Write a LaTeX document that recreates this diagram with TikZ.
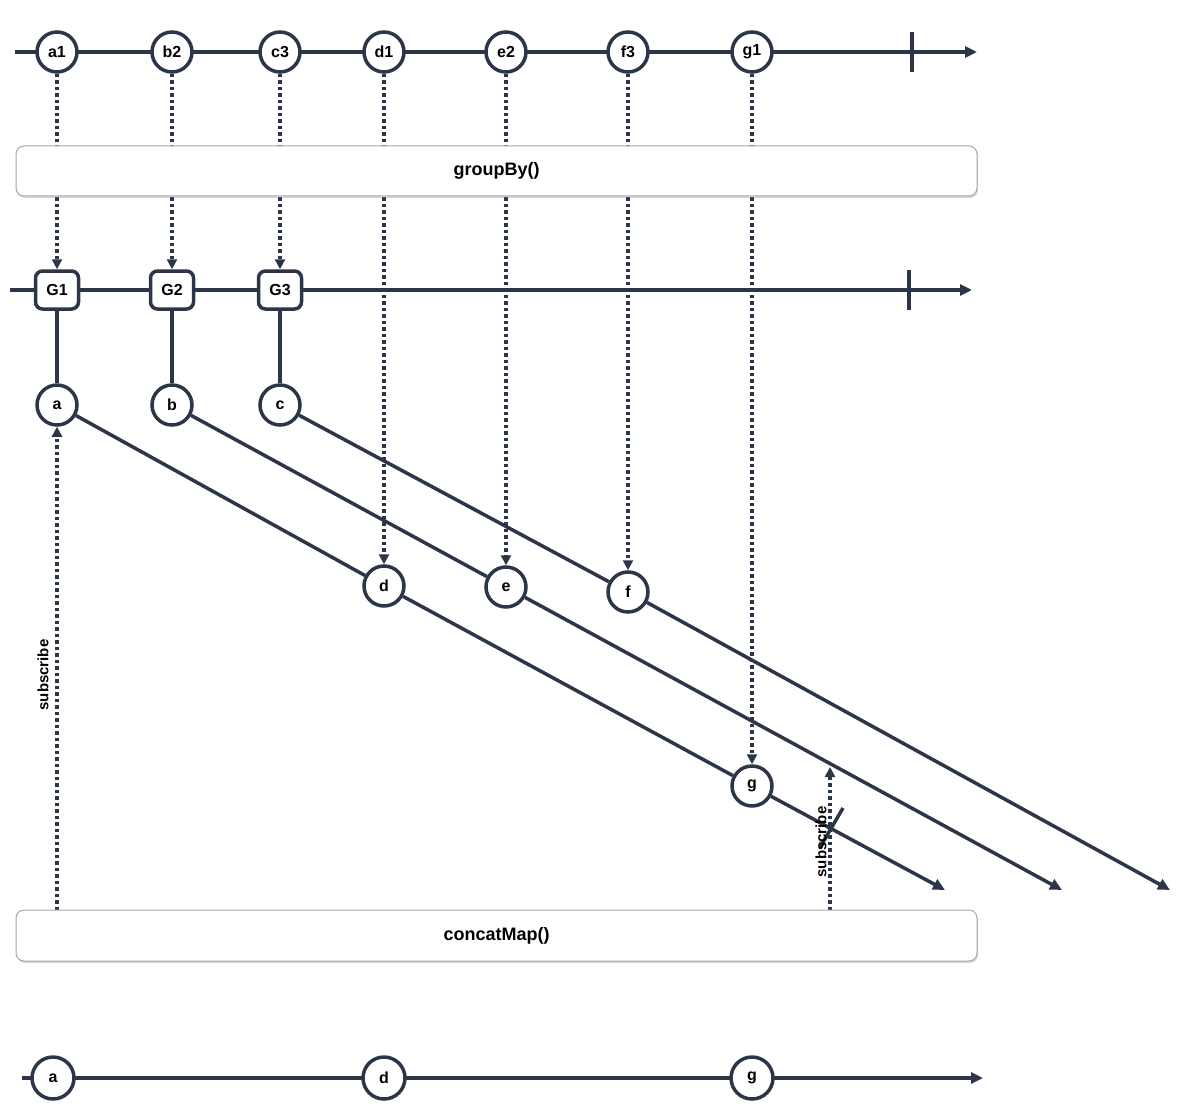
\documentclass[tikz,border=0pt]{standalone}
\usepackage{fontspec}
\setmainfont{Liberation Sans}
\usetikzlibrary{arrows.meta,shadows}
\definecolor{ink}{RGB}{44,54,72}
\pgfdeclarelayer{bg}
\pgfsetlayers{bg,main}
\begin{document}
\begin{tikzpicture}[x=1pt,y=-1pt,
  every node/.style={font=\fontsize{16}{18}\selectfont\bfseries},
  axis/.style={draw=ink,line width=3.8pt},
  link/.style={draw=ink,line width=3.5pt},
  ev/.style={circle,draw=ink,line width=3.5pt,fill=white,minimum size=40pt,inner sep=0pt},
  grp/.style={rounded corners=7pt,draw=ink,line width=3.5pt,fill=white,minimum width=43pt,minimum height=38pt,inner sep=0pt},
  opbox/.style={rounded corners=8pt,draw=gray!70,line width=1pt,fill=white,
     drop shadow={opacity=0.3,shadow xshift=1pt,shadow yshift=-2pt},
     minimum width=961pt,minimum height=50pt,inner sep=0pt,
     font=\fontsize{18}{20}\selectfont\bfseries},
  dots/.style={draw=ink,line width=3.5pt,dash pattern=on 3.5pt off 3pt},
  tip/.style={-{Triangle[length=12pt,width=11pt]}},
  dtip/.style={-{Triangle[length=10pt,width=10pt]}},
  lbl/.style={font=\fontsize{15}{17}\selectfont\bfseries,rotate=90,inner sep=0pt},
]
\useasboundingbox (0,0) rectangle (1185,1110);

% ---- top stream ----
\coordinate (t0) at (15,52);
\coordinate (t9) at (977,52);
\coordinate (k1a) at (912,32);
\coordinate (k1b) at (912,72);
\node[ev] (a1) at (57,52) {a1};
\node[ev] (b2) at (172,52) {b2};
\node[ev] (c3) at (280,52) {c3};
\node[ev] (d1) at (384,52) {d1};
\node[ev] (e2) at (506,52) {e2};
\node[ev] (f3) at (628,52) {f3};
\node[ev] (g1) at (752,52) {g1};

% ---- groupBy ----
\node[opbox] (gb) at (496.5,171) {groupBy()};

% ---- group stream ----
\coordinate (u0) at (10,290);
\coordinate (u9) at (972,290);
\coordinate (k2a) at (909,270);
\coordinate (k2b) at (909,310);
\node[grp] (G1) at (57,290) {G1};
\node[grp] (G2) at (172,290) {G2};
\node[grp] (G3) at (280,290) {G3};

% ---- inner groups ----
\node[ev] (a) at (57,405) {a};
\node[ev] (b) at (172,405) {b};
\node[ev] (c) at (280,405) {c};
\node[ev] (d) at (384,586) {d};
\node[ev] (e) at (506,587) {e};
\node[ev] (f) at (628,592) {f};
\node[ev] (g) at (752,786) {g};
\coordinate (endA) at (945,890);
\coordinate (endB) at (1062,890);
\coordinate (endC) at (1170,890);

% ---- concatMap ----
\node[opbox,minimum height=51pt] (cm) at (496.5,935.5) {concatMap()};
\coordinate (s1) at (57,910);
\coordinate (s2a) at (830,910);
\coordinate (s2b) at (830,767);
\node[lbl] (sub1) at (43,675) {subscribe};
\node[lbl] (sub2) at (821,842) {subscribe};
\coordinate (x1) at (843,808);
\coordinate (x2) at (819,849);

% ---- output stream ----
\coordinate (o0) at (22,1078);
\coordinate (o9) at (983,1078);
\node[ev,minimum size=42pt] (oa) at (53,1078) {a};
\node[ev,minimum size=42pt] (od) at (384,1078) {d};
\node[ev,minimum size=42pt] (og) at (752,1078) {g};

\begin{pgfonlayer}{bg}
  \draw[axis,tip] (t0) -- (t9);
  \draw[axis] (k1a) -- (k1b);
  \draw[axis,tip] (u0) -- (u9);
  \draw[axis] (k2a) -- (k2b);
  \draw[axis,tip] (o0) -- (o9);

  \draw[dots,dtip] (a1) -- (G1);
  \draw[dots,dtip] (b2) -- (G2);
  \draw[dots,dtip] (c3) -- (G3);
  \draw[dots,dtip] (d1) -- (d);
  \draw[dots,dtip] (e2) -- (e);
  \draw[dots,dtip] (f3) -- (f);
  \draw[dots,dtip] (g1) -- (g);

  \draw[link] (G1) -- (a);
  \draw[link] (G2) -- (b);
  \draw[link] (G3) -- (c);

  \draw[link] (a) -- (d);
  \draw[link] (d) -- (g);
  \draw[link,tip] (g) -- (endA);
  \draw[link] (b) -- (e);
  \draw[link,tip] (e) -- (endB);
  \draw[link] (c) -- (f);
  \draw[link,tip] (f) -- (endC);

  \draw[dots,dtip] (s1) -- (a);
  \draw[dots,dtip] (s2a) -- (s2b);
  \draw[link,-{Triangle[length=7pt,width=6pt]}] (x1) -- (x2);
\end{pgfonlayer}
\end{tikzpicture}
\end{document}
